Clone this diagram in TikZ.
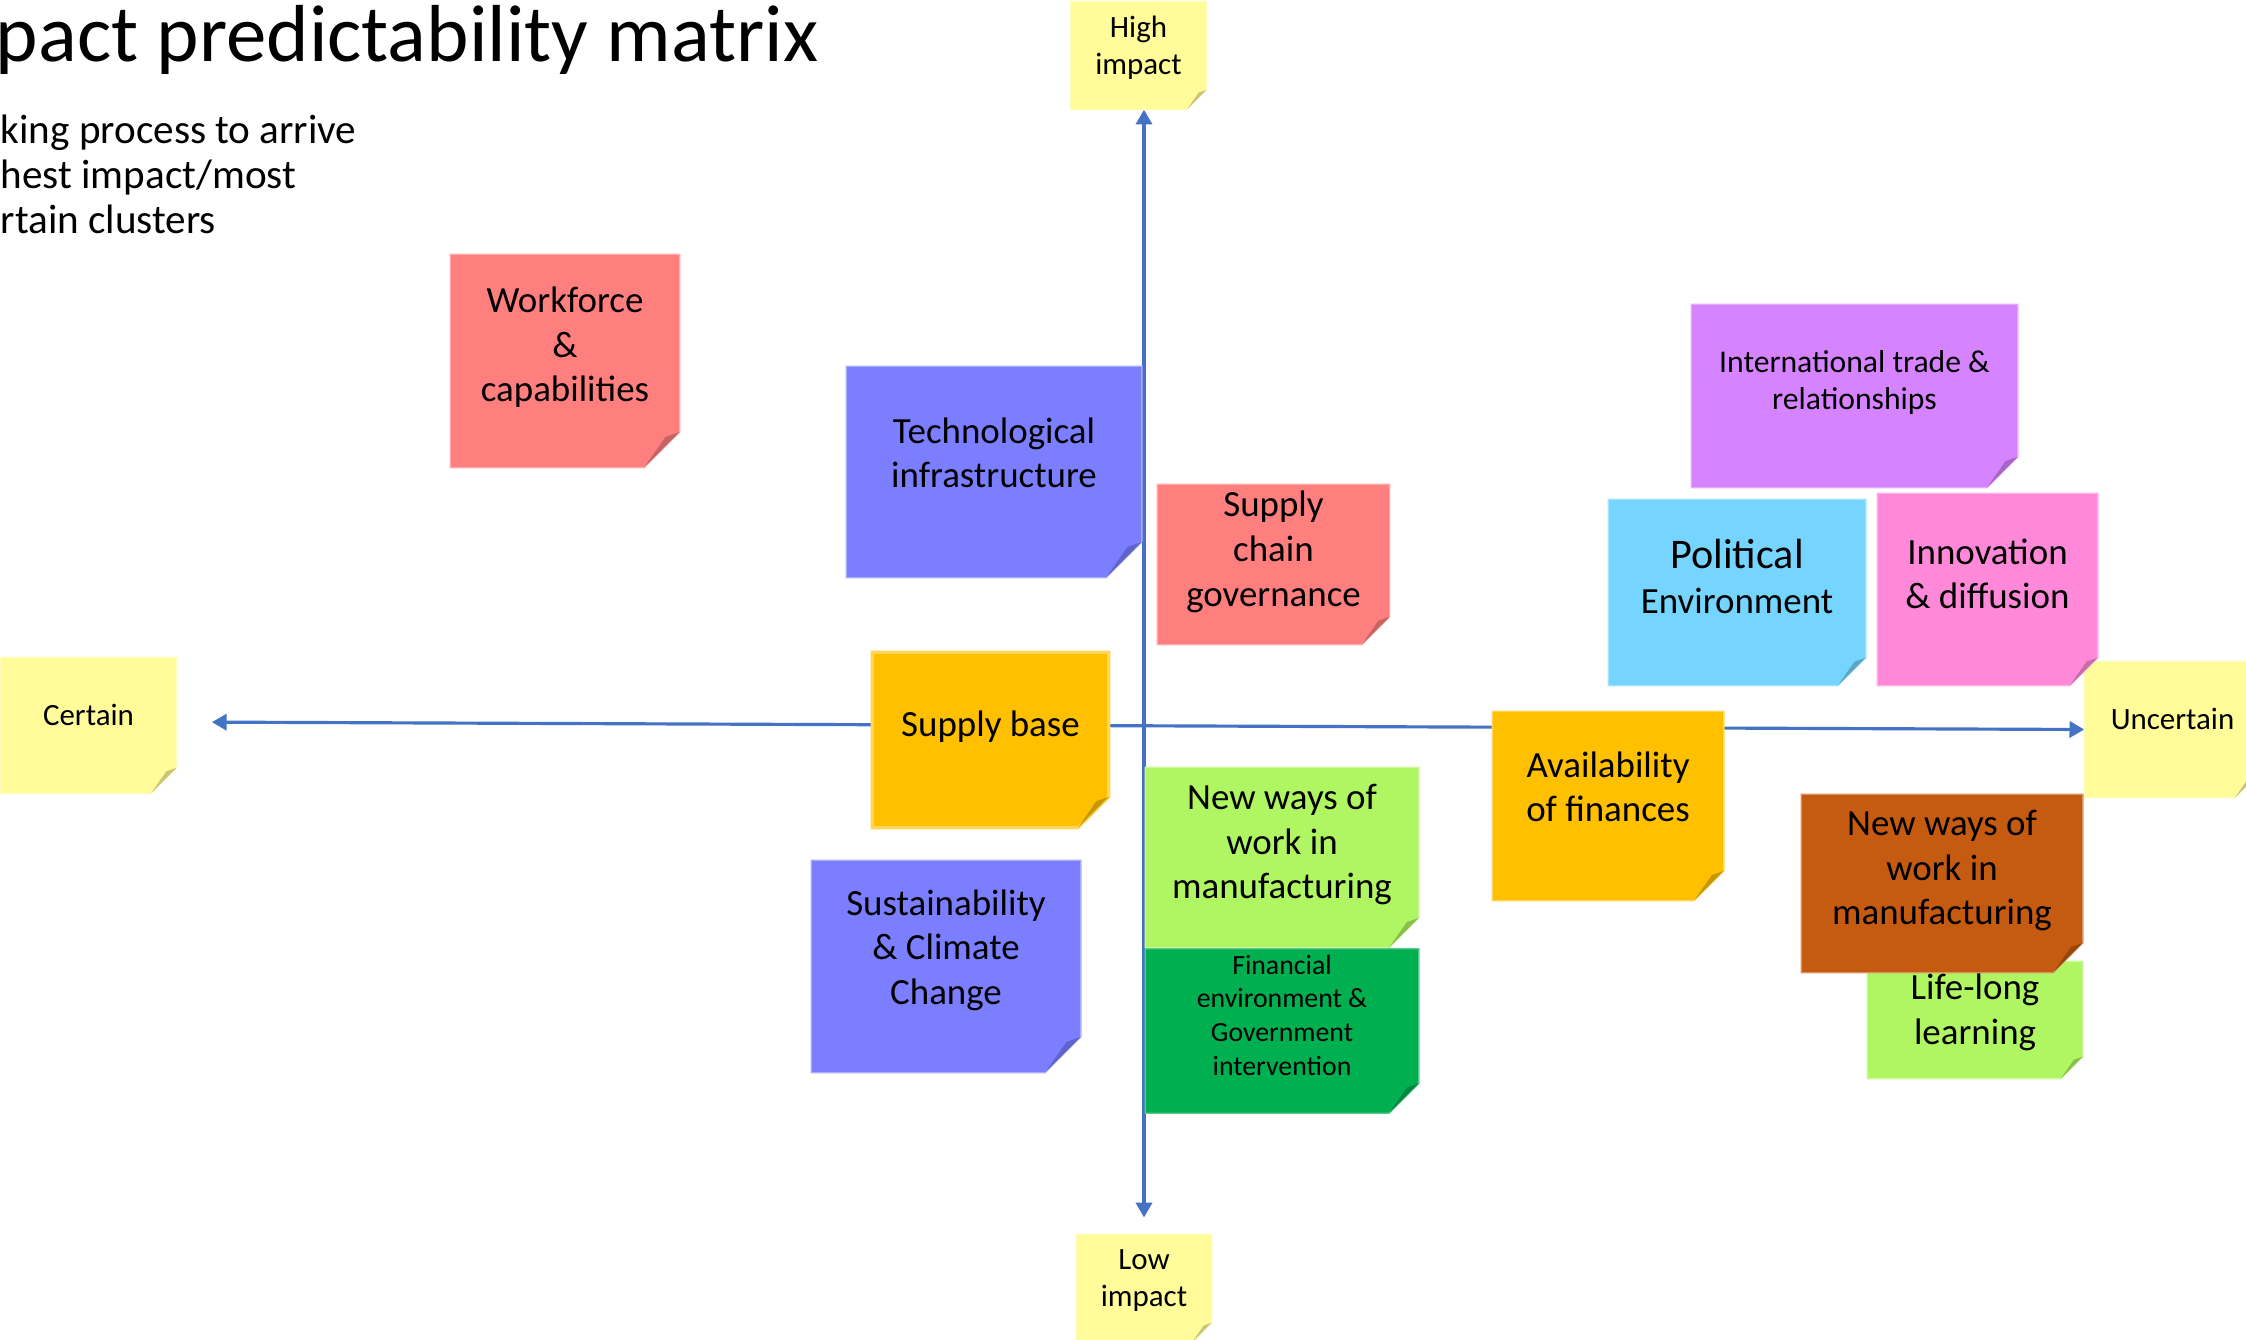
\documentclass[tikz,border=0pt]{standalone}
\usepackage{fontspec}
\setmainfont{Carlito}
\usepackage{tikz}
\usetikzlibrary{arrows.meta, positioning, backgrounds}
\definecolor{noteyellow}{HTML}{FFFC99}
\definecolor{notered}{HTML}{FF7F7F}
\definecolor{noteblue}{HTML}{7B7FFF}
\definecolor{noteorange}{HTML}{FFC000}
\definecolor{notelime}{HTML}{B0F562}
\definecolor{notegreen}{HTML}{00B050}
\definecolor{notepurple}{HTML}{D683FF}
\definecolor{notecyan}{HTML}{75D5FF}
\definecolor{notepink}{HTML}{FF89D8}
\definecolor{notebrown}{HTML}{C55A11}
\definecolor{axisblue}{HTML}{4472C4}

\begin{document}
\begin{tikzpicture}[
    x=0.01cm, y=-0.01cm,
    note/.style={rectangle, inner sep=0pt, align=center, text depth=9pt, font=\fontsize{10.5pt}{12.7pt}\selectfont},
    tag/.style={note, text depth=6pt, font=\fontsize{8.8pt}{10.5pt}\selectfont},
    axis/.style={{Triangle[width=4.6pt,length=4.2pt]}-{Triangle[width=4.6pt,length=4.2pt]}, draw=axisblue, line width=0.9pt}
]
\path[use as bounding box] (0,0) rectangle (2246,1340);

% Title
\node[anchor=base east, inner sep=0pt, font=\fontsize{23pt}{27pt}\selectfont] (title) at (819,62) {pact predictability matrix};
\node[anchor=north west, align=left, inner sep=0pt, font=\fontsize{11.7pt}{12.9pt}\selectfont] (intro) at (0,114) {king process to arrive\\hest impact/most\\rtain clusters};

% Axis labels
\node[tag, minimum width=1.35cm, minimum height=1.07cm] (high) at (1138.5,55.5) {High\\impact};
\node[tag, minimum width=1.34cm, minimum height=1.07cm] (low) at (1144,1288.5) {Low\\impact};
\node[tag, minimum width=1.75cm, minimum height=1.35cm] (certain) at (88.5,725.5) {Certain};
\node[tag, minimum width=1.75cm, minimum height=1.35cm] (uncertain) at (2172.5,729.5) {Uncertain};

% Clusters
\node[note, minimum width=2.28cm, minimum height=2.12cm, text depth=9.5pt] (work) at (565,361) {Workforce\\\&\\capabilities};
\node[note, minimum width=2.94cm, minimum height=2.10cm, text depth=11pt] (tech) at (994,472) {Technological\\infrastructure};
\node[note, minimum width=2.31cm, minimum height=1.59cm] (chain) at (1273.5,564.5) {Supply\\chain\\governance};
\node[note, minimum width=2.35cm, minimum height=1.74cm] (base) at (990.5,740) {Supply base};
\node[note, minimum width=2.68cm, minimum height=2.11cm, text depth=11pt] (sust) at (946,966.5) {Sustainability\\\& Climate\\Change};
\node[note, minimum width=2.72cm, minimum height=1.79cm] (newwork) at (1282,857.5) {New ways of\\work in\\manufacturing};
\node[note, below=0.01cm of newwork, minimum width=2.72cm, minimum height=1.63cm, font=\fontsize{7.9pt}{9.6pt}\selectfont] (finance) {Financial\\environment \&\\Government\\intervention};
\node[note, minimum width=2.30cm, minimum height=1.88cm, text depth=11pt] (avail) at (1608,806) {Availability\\of finances};
\node[note, minimum width=3.25cm, minimum height=1.82cm, font=\fontsize{9pt}{10.5pt}\selectfont] (trade) at (1854.5,396) {International trade \&\\relationships};
\node[note, minimum width=2.56cm, minimum height=1.85cm] (politics) at (1737,592.5) {{\fontsize{12pt}{14pt}\selectfont Political}\\Environment};
\node[note, minimum width=2.19cm, minimum height=1.91cm] (innov) at (1987.5,589.5) {Innovation\\\& diffusion};
\node[note, minimum width=2.14cm, minimum height=1.16cm, text depth=6pt] (lifelong) at (1975,1020) {Life-long\\learning};
\node[note, minimum width=2.80cm, minimum height=1.77cm] (newwork2) at (1942,883.5) {New ways of\\work in\\manufacturing};

\begin{scope}[on background layer]
    \fill[white] (0,0) rectangle (2246,1340);
    % Axes
    \draw[axis, shorten >=4.8pt] (high.south -| low.north) -- (low.north);
    \draw[axis, shorten <=10pt] ([yshift=1pt]certain.east) -- (uncertain.west);
    % Sticky notes with folded corner
    \foreach \n/\col/\f/\w in {high/noteyellow/5.7/0.4, low/noteyellow/5.7/0.4, certain/noteyellow/7.4/0.4, uncertain/noteyellow/7.4/0.4,
        work/notered/10.2/0.4, tech/noteblue/10.2/0.4, chain/notered/8/0.4, base/noteorange/8.8/0.9, sust/noteblue/10.2/0.4,
        newwork/notelime/8.5/0.4, finance/notegreen/8.5/0.4, avail/noteorange/8.5/0.4, trade/notepurple/8.8/0.4,
        politics/notecyan/8/0.4, innov/notepink/8/0.4, lifelong/notelime/6.3/0.4, newwork2/notebrown/8.5/0.4} {
        \filldraw[fill=\col, draw=\col!65!white, line width=\w pt]
            (\n.north west) -- (\n.north east) -- ([yshift=\f*1pt]\n.south east)
            -- ([xshift=-\f*1pt]\n.south east) -- (\n.south west) -- cycle;
        \fill[\col!78!black] ([yshift=\f*1pt]\n.south east) -- ([xshift=-0.4*\f*1pt, yshift=0.86*\f*1pt]\n.south east)
            -- ([xshift=-\f*1pt]\n.south east) -- cycle;
    }
\end{scope}

\end{tikzpicture}
\end{document}
